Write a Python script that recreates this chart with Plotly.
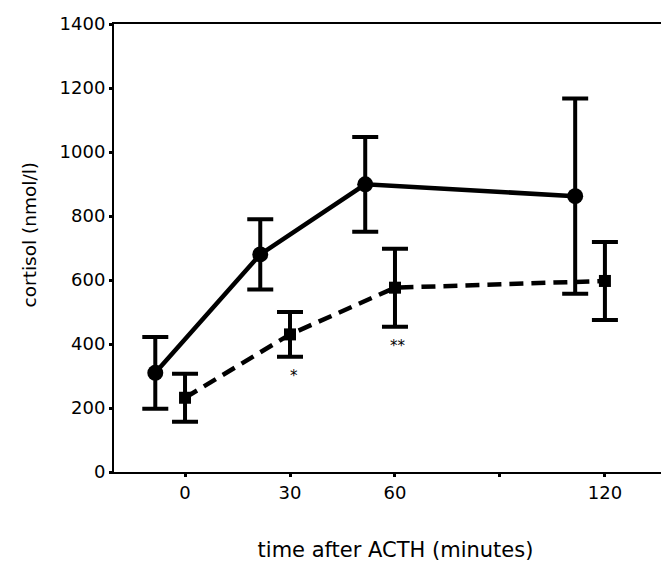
import plotly.graph_objects as go

# Data
time_min = [0, 30, 60, 120]
tick_vals = [0, 30, 60, 90, 120]
tick_text = ["0", "30", "60", "", "120"]
y_tick_vals = [0, 200, 400, 600, 800, 1000, 1200, 1400]
circle_offset = -8.5  # circles drawn slightly left of each time point
circle_vals = [310, 680, 899, 862]
circle_err = [112, 110, 148, 305]
square_vals = [232, 430, 576, 597]
square_err = [75, 70, 122, 122]
signif_idx = [1, 2]
signif_text = ["*", "**"]

FONT = "DejaVu Sans, Arial, sans-serif"

fig = go.Figure()

fig.add_trace(go.Scatter(
    x=[t + circle_offset for t in time_min], y=circle_vals,
    mode="lines+markers",
    line=dict(color="black", width=4.5),
    marker=dict(symbol="circle", size=16, color="black"),
    error_y=dict(type="data", array=circle_err, visible=True,
                 color="black", thickness=4, width=13),
    showlegend=False,
))

fig.add_trace(go.Scatter(
    x=time_min, y=square_vals,
    mode="lines+markers",
    line=dict(color="black", width=4.5, dash="14px,8px"),
    marker=dict(symbol="square", size=12, color="black"),
    error_y=dict(type="data", array=square_err, visible=True,
                 color="black", thickness=4, width=13),
    showlegend=False,
))

for i, txt in zip(signif_idx, signif_text):
    fig.add_annotation(
        x=time_min[i] + 1, y=square_vals[i] - square_err[i],
        xref="x", yref="y", text=txt, showarrow=False,
        yanchor="top", yshift=-8,
        font=dict(family=FONT, size=15, color="black"),
    )

# y-axis title placed as rotated text left of the tick labels
fig.add_annotation(
    x=0, y=0.528, xref="paper", yref="paper",
    text="cortisol (nmol/l)", textangle=-90, showarrow=False,
    xanchor="center", yanchor="middle", xshift=-85,
    font=dict(family=FONT, size=18.5, color="black"),
)

fig.update_layout(
    width=669, height=563,
    margin=dict(l=106, r=0, t=16, b=99),
    paper_bgcolor="white", plot_bgcolor="white",
    font=dict(family=FONT, size=18, color="black"),
)

fig.update_xaxes(
    range=[-20.3, 140.6],
    tickvals=tick_vals, ticktext=tick_text,
    showline=True, linecolor="black", linewidth=2, mirror=True,
    ticks="outside", ticklen=3, tickwidth=3, tickcolor="black",
    showgrid=False, zeroline=False,
    tickfont=dict(family=FONT, size=18),
    title=dict(text="time after ACTH (minutes)",
               font=dict(family=FONT, size=21), standoff=41),
)

fig.update_yaxes(
    range=[0, 1400], tickvals=y_tick_vals,
    showline=True, linecolor="black", linewidth=2,
    ticks="outside", ticklen=3, tickwidth=3, tickcolor="black",
    showgrid=False, zeroline=False,
    tickfont=dict(family=FONT, size=18),
)

fig.write_html("out.html")
